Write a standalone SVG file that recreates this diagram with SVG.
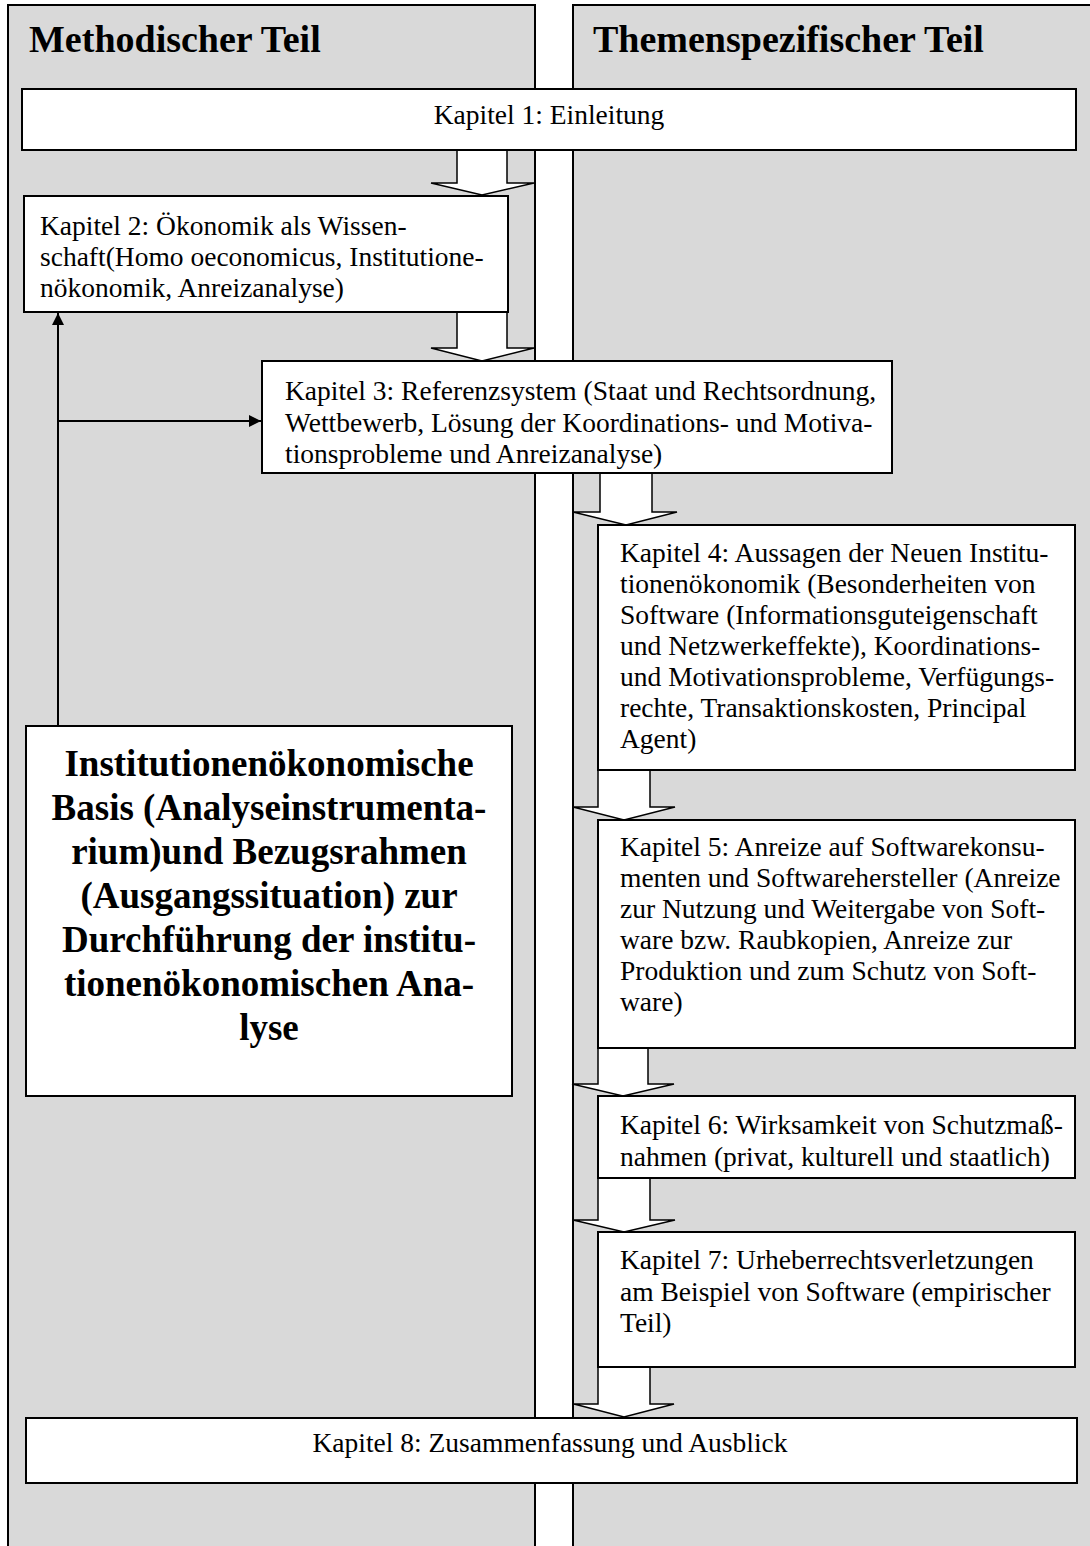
<svg xmlns="http://www.w3.org/2000/svg" width="1090" height="1546" viewBox="0 0 1090 1546">
<defs>
<style>
.panel{fill:#d9d9d9;stroke:#000;stroke-width:2}
.box{fill:#fff;stroke:#000;stroke-width:2}
.barrow{fill:#fff;stroke:#000;stroke-width:1.5;stroke-linejoin:miter}
.t{font-family:"Liberation Serif","Times New Roman",serif;font-size:27.5px;fill:#000}
.title{font-family:"Liberation Serif","Times New Roman",serif;font-size:38px;font-weight:bold;fill:#000}
.big{font-family:"Liberation Serif","Times New Roman",serif;font-size:37px;font-weight:bold;fill:#000;text-anchor:middle}
.line{stroke:#000;stroke-width:2;fill:none}
</style>
<marker id="ah" viewBox="0 0 10 10" refX="10" refY="5" markerWidth="6" markerHeight="6" markerUnits="strokeWidth" orient="auto">
<path d="M0,0 L10,5 L0,10 z" fill="#000"/>
</marker>
</defs>
<rect width="1090" height="1546" fill="#fff"/>
<g id="panel-methodisch">
<rect class="panel" x="8" y="5" width="527" height="1560"/>
<text class="title" x="29" y="52">Methodischer Teil</text>
</g>
<g id="panel-themenspezifisch">
<rect class="panel" x="573" y="5" width="540" height="1560"/>
<text class="title" x="593" y="52">Themenspezifischer Teil</text>
</g>
<g id="connectors">
<polygon class="barrow" points="457,150 507,150 507,183 534,183 482,195 431,183 457,183"/>
<polygon class="barrow" points="457,312 507,312 507,348 534,348 482,361 431,348 457,348"/>
<polygon class="barrow" points="600,473 652,473 652,512 677,512 626,525 573,512 600,512"/>
<polygon class="barrow" points="598,770 650,770 650,807 675,807 624,820 573,807 598,807"/>
<polygon class="barrow" points="598,1048 648,1048 648,1084 674,1084 623,1096 572,1084 598,1084"/>
<polygon class="barrow" points="598,1178 650,1178 650,1220 675,1220 624,1232 573,1220 598,1220"/>
<polygon class="barrow" points="598,1367 650,1367 650,1404 674,1404 624,1417 574,1404 598,1404"/>
<line class="line" x1="58" y1="726" x2="58" y2="313" marker-end="url(#ah)"/>
<line class="line" x1="58" y1="421" x2="261" y2="421" marker-end="url(#ah)"/>
</g>
<g id="kap1">
<rect class="box" x="22" y="89" width="1054" height="61"/>
<text class="t" x="549" y="124" text-anchor="middle">Kapitel 1: Einleitung</text>
</g>
<g id="kap2">
<rect class="box" x="24" y="196" width="484" height="116"/>
<text class="t"><tspan x="40" y="235">Kapitel 2: Ökonomik als Wissen-</tspan><tspan x="40" y="266">schaft(Homo oeconomicus, Institutione-</tspan><tspan x="40" y="297">nökonomik, Anreizanalyse)</tspan></text>
</g>
<g id="kap3">
<rect class="box" x="262" y="361" width="630" height="112"/>
<text class="t"><tspan x="285" y="400">Kapitel 3: Referenzsystem (Staat und Rechtsordnung,</tspan><tspan x="285" y="432">Wettbewerb, Lösung der Koordinations- und Motiva-</tspan><tspan x="285" y="463">tionsprobleme und Anreizanalyse)</tspan></text>
</g>
<g id="kap4">
<rect class="box" x="598" y="525" width="477" height="245"/>
<text class="t"><tspan x="620" y="562">Kapitel 4: Aussagen der Neuen Institu-</tspan><tspan x="620" y="593">tionenökonomik (Besonderheiten von</tspan><tspan x="620" y="624">Software (Informationsguteigenschaft</tspan><tspan x="620" y="655">und Netzwerkeffekte), Koordinations-</tspan><tspan x="620" y="686">und Motivationsprobleme, Verfügungs-</tspan><tspan x="620" y="717">rechte, Transaktionskosten, Principal</tspan><tspan x="620" y="748">Agent)</tspan></text>
</g>
<g id="kap5">
<rect class="box" x="598" y="820" width="477" height="228"/>
<text class="t"><tspan x="620" y="856">Kapitel 5: Anreize auf Softwarekonsu-</tspan><tspan x="620" y="887">menten und Softwarehersteller (Anreize</tspan><tspan x="620" y="918">zur Nutzung und Weitergabe von Soft-</tspan><tspan x="620" y="949">ware bzw. Raubkopien, Anreize zur</tspan><tspan x="620" y="980">Produktion und zum Schutz von Soft-</tspan><tspan x="620" y="1011">ware)</tspan></text>
</g>
<g id="kap6">
<rect class="box" x="598" y="1096" width="477" height="82"/>
<text class="t"><tspan x="620" y="1134">Kapitel 6: Wirksamkeit von Schutzmaß-</tspan><tspan x="620" y="1166">nahmen (privat, kulturell und staatlich)</tspan></text>
</g>
<g id="kap7">
<rect class="box" x="598" y="1232" width="477" height="135"/>
<text class="t"><tspan x="620" y="1269">Kapitel 7: Urheberrechtsverletzungen</tspan><tspan x="620" y="1301">am Beispiel von Software (empirischer</tspan><tspan x="620" y="1332">Teil)</tspan></text>
</g>
<g id="kap8">
<rect class="box" x="26" y="1418" width="1051" height="65"/>
<text class="t" x="550" y="1452" text-anchor="middle">Kapitel 8: Zusammenfassung und Ausblick</text>
</g>
<g id="basis">
<rect class="box" x="26" y="726" width="486" height="370"/>
<text class="big"><tspan x="269" y="776">Institutionenökonomische</tspan><tspan x="269" y="820">Basis (Analyseinstrumenta-</tspan><tspan x="269" y="864">rium)und Bezugsrahmen</tspan><tspan x="269" y="908">(Ausgangssituation) zur</tspan><tspan x="269" y="952">Durchführung der institu-</tspan><tspan x="269" y="996">tionenökonomischen Ana-</tspan><tspan x="269" y="1040">lyse</tspan></text>
</g>
</svg>
